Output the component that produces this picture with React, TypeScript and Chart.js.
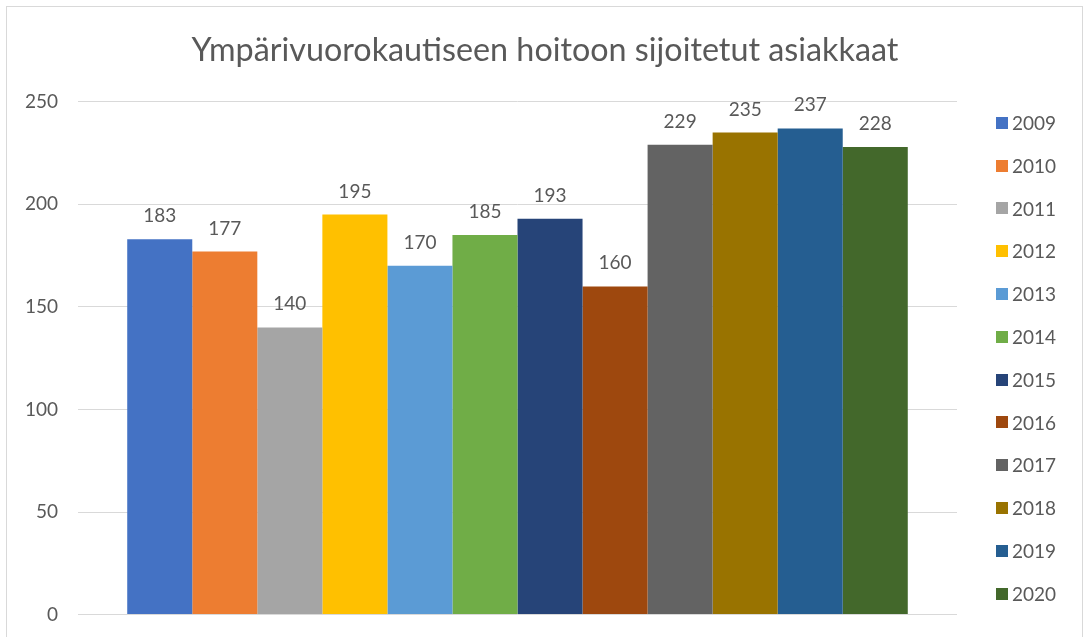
import React, { useEffect, useRef } from "react";
import { Chart, registerables } from "chart.js";

Chart.register(...registerables);

const TITLE = "Ympärivuorokautiseen hoitoon sijoitetut asiakkaat";
const categories = [""];
const years = ["2009", "2010", "2011", "2012", "2013", "2014", "2015", "2016", "2017", "2018", "2019", "2020"];
const values = [183, 177, 140, 195, 170, 185, 193, 160, 229, 235, 237, 228];
const colors = [
  "#4472C4", "#ED7D31", "#A5A5A5", "#FFC000", "#5B9BD5", "#70AD47",
  "#264478", "#9E480E", "#636363", "#997300", "#255E91", "#43682B",
];
const Y_MIN = 0;
const Y_MAX = 250;
const Y_STEP = 50;

const FONT = "Lato, 'Open Sans', sans-serif";
const TEXT_COLOR = "#595959";

const dataLabels = {
  id: "dataLabels",
  afterDatasetsDraw(chart: any) {
    const ctx = chart.ctx;
    ctx.save();
    ctx.font = `19px ${FONT}`;
    ctx.fillStyle = TEXT_COLOR;
    ctx.textAlign = "center";
    ctx.textBaseline = "alphabetic";
    chart.data.datasets.forEach((ds: any, i: number) => {
      const meta = chart.getDatasetMeta(i);
      meta.data.forEach((el: any, j: number) => {
        ctx.fillText(String(ds.data[j]), el.x, el.y - 17);
      });
    });
    ctx.restore();
  },
};

// Legend on the right, drawn from the chart's own datasets
const sideLegend = {
  id: "sideLegend",
  afterDraw(chart: any) {
    const ctx = chart.ctx;
    const ca = chart.chartArea;
    const ds = chart.data.datasets;
    const step = 42.8;
    const mid = (ca.top + ca.bottom) / 2;
    ctx.save();
    ctx.font = `19px ${FONT}`;
    ctx.textAlign = "left";
    ctx.textBaseline = "middle";
    ds.forEach((d: any, i: number) => {
      const cy = mid + (i - (ds.length - 1) / 2) * step;
      ctx.fillStyle = d.backgroundColor;
      ctx.fillRect(ca.right + 39, Math.round(cy - 6), 12, 12);
      ctx.fillStyle = TEXT_COLOR;
      ctx.fillText(d.label, ca.right + 55, cy + 1);
    });
    ctx.restore();
  },
};

const centerTitle = {
  id: "centerTitle",
  afterLayout(chart: any) {
    const tb = chart.titleBlock;
    if (tb) {
      tb.left = 6;
      tb.right = 1084;
    }
  },
};

export default function App() {
  const ref = useRef<HTMLCanvasElement | null>(null);
  useEffect(() => {
    if (!ref.current) return;
    const chart = new Chart(ref.current, {
      type: "bar",
      data: {
        labels: categories,
        datasets: years.map((y, i) => ({
          label: y,
          data: [values[i]],
          backgroundColor: colors[i],
          borderWidth: 0,
          categoryPercentage: 0.888,
          barPercentage: 1,
        })),
      },
      options: {
        responsive: false,
        animation: false,
        devicePixelRatio: 1,
        layout: { padding: { left: 0, right: 127, top: 0, bottom: 14 } },
        plugins: {
          tooltip: { enabled: false },
          legend: { display: false },
          title: {
            display: true,
            text: TITLE,
            color: TEXT_COLOR,
            font: { family: FONT, size: 32.3, weight: "normal" },
            padding: { top: 31, bottom: 32 },
          },
        },
        scales: {
          x: {
            display: false,
            grid: { display: false },
          },
          y: {
            min: Y_MIN,
            max: Y_MAX,
            afterFit(scale: any) {
              scale.width = 78;
            },
            ticks: {
              stepSize: Y_STEP,
              padding: 20,
              color: TEXT_COLOR,
              font: { family: FONT, size: 19 },
            },
            grid: { color: "#d9d9d9", lineWidth: 1, drawTicks: false },
            border: { display: false },
          },
        },
      },
      plugins: [dataLabels, sideLegend, centerTitle],
    });
    return () => chart.destroy();
  }, []);
  return (
    <div style={{ position: "fixed", left: 0, top: 0, width: 1084, height: 637, overflow: "hidden", background: "#fff" }}>
      <div style={{ position: "absolute", left: 6, top: 6, width: 1075, height: 700, border: "1px solid #d9d9d9" }} />
      <canvas ref={ref} width={1084} height={646} style={{ position: "absolute", left: 0, top: 0 }} />
    </div>
  );
}
